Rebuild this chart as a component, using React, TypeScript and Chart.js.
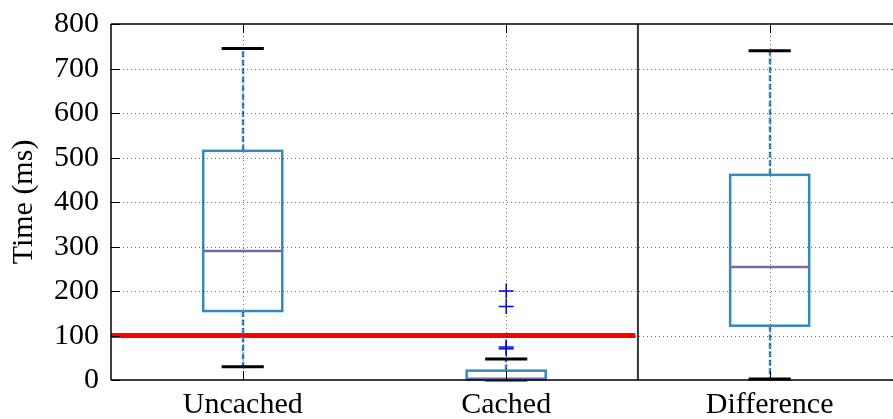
import React, { useEffect, useRef } from "react";
import { Chart, registerables } from "chart.js";

Chart.register(...registerables);

const categories = ["Uncached", "Cached", "Difference"];
const whiskerLow = [30, 0, 2];
const q1 = [155, 1, 122];
const medians = [290, 3, 254];
const q3 = [515, 21, 461];
const whiskerHigh = [745, 47, 740];
const outlierCategory = [2, 2, 2, 2];
const outlierValues = [200, 165, 74, 70];
const yTicks = [0, 100, 200, 300, 400, 500, 600, 700, 800];
const thresholdValue = 100;
const yTitle = "Time (ms)";

const FONT = "'Liberation Serif', 'Times New Roman', serif";

const boxPlugin = {
  id: "boxPlugin",
  afterDatasetsDraw(chart: any) {
    const ctx = chart.ctx;
    const xs = chart.scales.x;
    const ys = chart.scales.y;
    const ca = chart.chartArea;
    const boxW = 0.3;
    const capW = 0.16;
    ctx.save();
    for (let i = 0; i < categories.length; i++) {
      const pos = i + 1;
      const cx = Math.round(xs.getPixelForValue(pos));
      const bl = xs.getPixelForValue(pos - boxW / 2);
      const br = xs.getPixelForValue(pos + boxW / 2);
      const cl = xs.getPixelForValue(pos - capW / 2);
      const cr = xs.getPixelForValue(pos + capW / 2);
      const yq1 = ys.getPixelForValue(q1[i]);
      const yq3 = ys.getPixelForValue(q3[i]);
      const ymed = ys.getPixelForValue(medians[i]);
      const ylo = ys.getPixelForValue(whiskerLow[i]);
      const yhi = ys.getPixelForValue(whiskerHigh[i]);
      ctx.strokeStyle = "#348ABD";
      ctx.lineWidth = 2.5;
      ctx.setLineDash([6, 2.5]);
      ctx.beginPath();
      ctx.moveTo(cx, yq3);
      ctx.lineTo(cx, yhi);
      ctx.moveTo(cx, yq1);
      ctx.lineTo(cx, ylo);
      ctx.stroke();
      ctx.setLineDash([]);
      ctx.strokeStyle = "#000";
      ctx.lineWidth = 3;
      ctx.beginPath();
      ctx.moveTo(cl, yhi);
      ctx.lineTo(cr, yhi);
      ctx.moveTo(cl, ylo);
      ctx.lineTo(cr, ylo);
      ctx.stroke();
      ctx.strokeStyle = "#348ABD";
      ctx.lineWidth = 2.5;
      ctx.strokeRect(bl, yq3, br - bl, yq1 - yq3);
      ctx.strokeStyle = "#7A68A6";
      ctx.lineWidth = 2.5;
      ctx.beginPath();
      ctx.moveTo(bl, ymed);
      ctx.lineTo(br, ymed);
      ctx.stroke();
    }
    const xRight = xs.getPixelForValue(3.5);
    ctx.strokeStyle = "rgba(0,0,0,0.55)";
    ctx.lineWidth = 1;
    ctx.setLineDash([1, 3]);
    ctx.beginPath();
    for (const v of yTicks) {
      if (v === yTicks[0] || v === yTicks[yTicks.length - 1]) continue;
      const y = Math.round(ys.getPixelForValue(v)) + 0.5;
      ctx.moveTo(ca.left, y);
      ctx.lineTo(xRight, y);
    }
    for (let i = 0; i < categories.length; i++) {
      const x = Math.round(xs.getPixelForValue(i + 1)) + 0.5;
      ctx.moveTo(x, ca.top);
      ctx.lineTo(x, ca.bottom);
    }
    ctx.stroke();
    ctx.setLineDash([]);
    ctx.strokeStyle = "#000";
    ctx.lineWidth = 1;
    ctx.beginPath();
    for (const v of yTicks) {
      const y = Math.round(ys.getPixelForValue(v)) + 0.5;
      ctx.moveTo(ca.left, y);
      ctx.lineTo(ca.left + 9, y);
      ctx.moveTo(xRight, y);
      ctx.lineTo(xRight - 9, y);
    }
    for (let i = 0; i < categories.length; i++) {
      const x = Math.round(xs.getPixelForValue(i + 1)) + 0.5;
      ctx.moveTo(x, ca.top);
      ctx.lineTo(x, ca.top + 9);
      ctx.moveTo(x, ca.bottom);
      ctx.lineTo(x, ca.bottom - 9);
    }
    ctx.stroke();
    const xSep = xs.getPixelForValue(2.5);
    ctx.strokeStyle = "#333";
    ctx.lineWidth = 2;
    ctx.beginPath();
    ctx.moveTo(xSep, ca.top);
    ctx.lineTo(xSep, ca.bottom);
    ctx.stroke();
    ctx.strokeStyle = "#000";
    ctx.lineWidth = 1.5;
    ctx.beginPath();
    ctx.moveTo(ca.left, ca.top);
    ctx.lineTo(xRight, ca.top);
    ctx.moveTo(ca.left, ca.top);
    ctx.lineTo(ca.left, ca.bottom);
    ctx.moveTo(ca.left, ca.bottom);
    ctx.lineTo(xRight, ca.bottom);
    ctx.moveTo(xRight, ca.top);
    ctx.lineTo(xRight, ca.bottom);
    ctx.stroke();
    ctx.fillStyle = "#000";
    ctx.font = `30px ${FONT}`;
    ctx.textAlign = "right";
    ctx.textBaseline = "alphabetic";
    for (const v of yTicks) {
      const y = ys.getPixelForValue(v);
      ctx.fillText(String(v), ca.left - 12, y + 8);
    }
    ctx.textAlign = "center";
    for (let i = 0; i < categories.length; i++) {
      const x = xs.getPixelForValue(i + 1);
      ctx.fillText(categories[i], x, ca.bottom + 33);
    }
    ctx.save();
    ctx.font = `30px ${FONT}`;
    ctx.translate(32, (ca.top + ca.bottom) / 2);
    ctx.rotate(-Math.PI / 2);
    ctx.textAlign = "center";
    ctx.textBaseline = "alphabetic";
    ctx.fillText(yTitle, 0, 0);
    ctx.restore();
    ctx.restore();
  },
};

export default function App() {
  const ref = useRef<HTMLCanvasElement | null>(null);
  useEffect(() => {
    if (!ref.current) return;
    const chart = new Chart(ref.current, {
      type: "scatter",
      data: {
        datasets: [
          {
            type: "line",
            data: [
              { x: 0.5, y: thresholdValue },
              { x: 2.49, y: thresholdValue },
            ],
            borderColor: "#ff0000",
            borderWidth: 5,
            pointRadius: 0,
            borderCapStyle: "butt",
          } as any,
          {
            data: outlierValues.map((v, i) => ({ x: outlierCategory[i], y: v })),
            pointStyle: "cross",
            pointRadius: 7.5,
            borderColor: "#0000ff",
            borderWidth: 1.5,
            backgroundColor: "#0000ff",
          } as any,
        ],
      },
      options: {
        animation: false,
        responsive: false,
        devicePixelRatio: 1,
        layout: { padding: { top: 24, left: 111, right: 0, bottom: 39 } },
        plugins: { legend: { display: false }, tooltip: { enabled: false } },
        scales: {
          x: { type: "linear", display: false, min: 0.5, max: 3.434 },
          y: { display: false, min: 0, max: 800 },
        },
      },
      plugins: [boxPlugin],
    } as any);
    return () => chart.destroy();
  }, []);
  return (
    <div style={{ position: "fixed", left: 0, top: 0, width: 893, height: 419, background: "#fff" }}>
      <canvas ref={ref} width={893} height={419} style={{ display: "block" }} />
    </div>
  );
}
